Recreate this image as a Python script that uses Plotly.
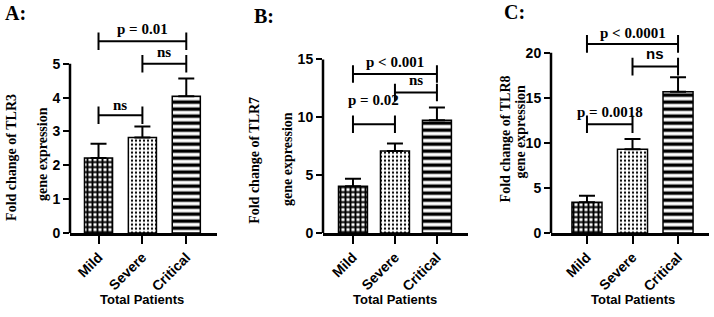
import plotly.graph_objects as go

categories = ["Mild", "Severe", "Critical"]
tlr3_mean = [2.22, 2.82, 4.04]
tlr3_err = [0.42, 0.33, 0.53]
tlr7_mean = [4.04, 7.09, 9.75]
tlr7_err = [0.64, 0.65, 1.10]
tlr8_mean = [3.42, 9.28, 15.65]
tlr8_err = [0.72, 1.15, 1.62]

y_ticks_A = [0, 1, 2, 3, 4, 5]
y_ticks_B = [0, 5, 10, 15]
y_ticks_C = [0, 5, 10, 15, 20]

W, H = 714, 317
SANS = "Liberation Sans, Arial, sans-serif"
SERIF = "Liberation Serif, Times New Roman, serif"

panels = [
    dict(letter="A:", mean=tlr3_mean, err=tlr3_err, ticks=y_ticks_A, ylab="TLR3",
         px=(70, 217), xr=[-0.65, 2.7], ppu=34.7, bw=0.64,
         brackets=[(0, 1, 3.48, 3.77, "ns", SERIF), (1, 2, 5.0, 5.36, "ns", SERIF),
                   (0, 2, 5.67, 6.02, "p = 0.01", SERIF)],
         letter_pos=(3, 13), t1=(12, 162, 14), t2=(42, 158, 14)),
    dict(letter="B:", mean=tlr7_mean, err=tlr7_err, ticks=y_ticks_B, ylab="TLR7",
         px=(323, 468), xr=[-0.714, 2.74], ppu=11.87, bw=0.69,
         brackets=[(0, 1, 9.39, 11.5, "p = 0.02", SERIF), (1, 2, 12.14, 13.2, "ns", SERIF),
                   (0, 2, 13.74, 14.8, "p < 0.001", SERIF)],
         letter_pos=(252, 16), t1=(255, 165, 14), t2=(288, 163, 14)),
    dict(letter="C:", mean=tlr8_mean, err=tlr8_err, ticks=y_ticks_C, ylab="TLR8",
         px=(551, 709), xr=[-0.79, 2.68], ppu=9.25, bw=0.66,
         brackets=[(0, 1, 12.05, 13.4, "p = 0.0018", SERIF), (1, 2, 18.45, 19.9, "ns", SANS),
                   (0, 2, 20.97, 22.2, "p < 0.0001", SERIF)],
         letter_pos=(502, 12), t1=(505, 143, 14), t2=(521, 135, 14)),
]

Y0_PX = 239  # pixel of value 0
YTOP_PX = 15
ydom = [(H - Y0_PX) / H, (H - YTOP_PX) / H]

fig = go.Figure()
shapes = []
annotations = []
layout = {}

for i, p in enumerate(panels):
    n = "" if i == 0 else str(i + 1)
    xa, ya = "x" + n, "y" + n
    top_val = (Y0_PX - YTOP_PX) / p["ppu"]
    fig.add_trace(go.Bar(
        x=[0, 1, 2], y=p["mean"], width=p["bw"], xaxis=xa, yaxis=ya,
        marker=dict(color="white", line=dict(color="black", width=1.5),
                    pattern=dict(shape=["+", ".", "-"], size=[5, 4, 7],
                                 solidity=[0.62, 0.25, 0.5],
                                 fgcolor="black", bgcolor="white", fillmode="replace")),
        error_y=dict(type="data", symmetric=False, array=p["err"], arrayminus=[0, 0, 0],
                     color="black", thickness=2, width=8),
        showlegend=False,
    ))
    layout["xaxis" + n] = dict(
        domain=[p["px"][0] / W, p["px"][1] / W], range=p["xr"], anchor=ya,
        tickvals=[0, 1, 2], ticktext=categories, tickangle=-45,
        ticks="outside", ticklen=8, tickwidth=2, tickcolor="black",
        showline=True, linecolor="black", linewidth=2.5, showgrid=False, zeroline=False,
        tickfont=dict(family=SANS, size=14, color="black", weight="bold"), fixedrange=True,
    )
    layout["yaxis" + n] = dict(
        domain=ydom, range=[0, top_val], anchor=xa,
        tickvals=p["ticks"], ticks="outside", ticklen=6, tickwidth=2, tickcolor="black",
        showline=False, showgrid=False, zeroline=False,
        tickfont=dict(family=SANS, size=14, color="black", weight="bold"),
    )
    shapes.append(dict(type="line", xref=xa + " domain", yref=ya, x0=0, x1=0,
                       y0=0, y1=p["ticks"][-1], line=dict(color="black", width=2.5)))
    tick_half = 9 / p["ppu"]
    for (a, b, yv, ty, txt, fam) in p["brackets"]:
        shapes.append(dict(type="line", xref=xa, yref=ya, x0=a, x1=b, y0=yv, y1=yv,
                           line=dict(color="black", width=2)))
        for xe in (a, b):
            shapes.append(dict(type="line", xref=xa, yref=ya, x0=xe, x1=xe,
                               y0=yv - tick_half, y1=yv + tick_half,
                               line=dict(color="black", width=2)))
        annotations.append(dict(xref=xa, yref=ya, x=(a + b) / 2, y=ty, text=txt,
                                showarrow=False, yanchor="middle",
                                font=dict(family=fam, size=15, color="black", weight="bold")))
    annotations.append(dict(xref=xa, yref="paper", x=1, y=(H - 307) / H, text="Total Patients",
                            showarrow=False, yanchor="middle", xanchor="center",
                            font=dict(family=SANS, size=13, color="black", weight="bold")))
    lx, ly = p["letter_pos"]
    annotations.append(dict(xref="paper", yref="paper", x=lx / W, y=(H - ly) / H, text=p["letter"],
                            xanchor="left", yanchor="middle", showarrow=False,
                            font=dict(family=SERIF, size=20, color="black", weight="bold")))
    for (tx, ty, fs), txt in ((p["t1"], "Fold change of " + p["ylab"]), (p["t2"], "gene expression")):
        annotations.append(dict(xref="paper", yref="paper", x=tx / W, y=(H - ty) / H, text=txt,
                                textangle=-90, showarrow=False, xanchor="center", yanchor="middle",
                                font=dict(family=SERIF, size=fs, color="black", weight="bold")))

fig.update_layout(
    width=W, height=H, margin=dict(l=0, r=0, t=0, b=0),
    paper_bgcolor="white", plot_bgcolor="white",
    shapes=shapes, annotations=annotations, **layout,
)
fig.write_html("out.html", config={"displayModeBar": False},
               post_script="document.body.style.margin='0px';document.body.style.overflow='hidden';")
